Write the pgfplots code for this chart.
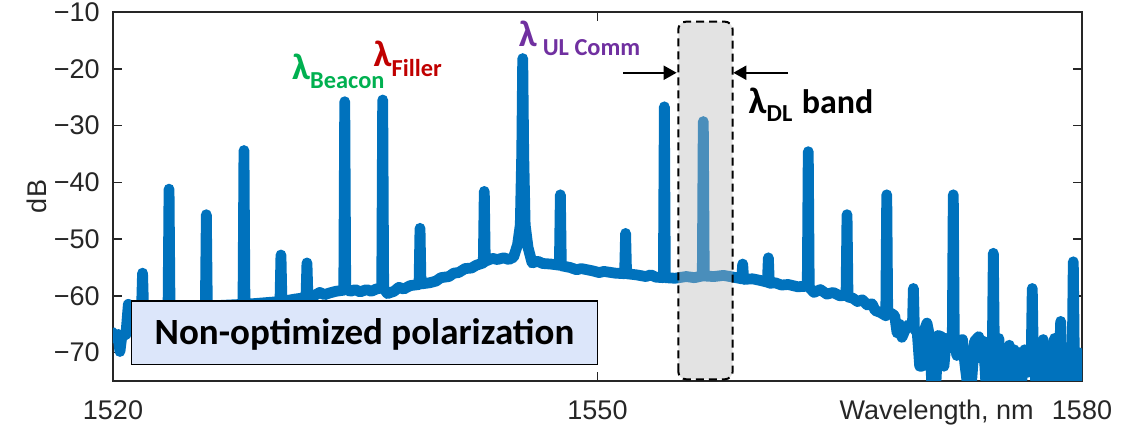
\documentclass[border=0pt]{standalone}
\usepackage{pgfplots}
\pgfplotsset{compat=1.18}
\usepackage{fontspec}
\setmainfont{Liberation Sans}
\newfontfamily\calibri{Carlito}
\usetikzlibrary{arrows.meta}
\definecolor{mblue}{RGB}{0,114,189}
\definecolor{axgray}{RGB}{38,38,38}
\definecolor{bgreen}{RGB}{0,176,80}
\definecolor{fred}{RGB}{192,0,0}
\definecolor{upurple}{RGB}{112,48,160}
\definecolor{boxblue}{RGB}{220,230,250}
\definecolor{bandgray}{RGB}{185,185,185}
\begin{document}
\begin{tikzpicture}
\useasboundingbox (-56.5pt,-23.5pt) rectangle (513.5pt,190.5pt);
\begin{axis}[
  at={(0,0)}, anchor=south west,
  scale only axis, width=484.5pt, height=184.5pt,
  xmin=1520, xmax=1580, ymin=-75, ymax=-10,
  xtick={1520,1550,1580}, xticklabels={1520,1550,1580},
  ytick={-70,-60,-50,-40,-30,-20,-10},
  yticklabels={−70,−60,−50,−40,−30,−20,−10},
  tick pos=both, xticklabel pos=lower, yticklabel pos=left,
  tick align=inside, major tick length=4.7pt,
  axis line style={axgray, line width=0.8pt},
  every tick/.style={axgray, line width=0.8pt},
  tick label style={font=\fontsize{13.5}{16}\selectfont, text=axgray},
  xticklabel style={anchor=base, yshift=-19.2pt},
  yticklabel style={anchor=east, inner sep=0pt, xshift=-6.5pt},
  clip mode=individual,
]
\addplot[mblue, line width=5.4pt, line join=round, line cap=round, mark=none] coordinates {
(1520.00,-66.5) (1520.15,-67.5) (1520.30,-66.8) (1520.43,-69.8) (1520.55,-67.0) (1520.80,-66.8)
(1520.95,-61.5) (1521.20,-62.0) (1521.77,-62.0) (1521.83,-56.0) (1521.89,-62.0)
(1523.41,-62.0) (1523.47,-41.2) (1523.53,-62.0)
(1525.72,-61.8) (1525.78,-45.7) (1525.84,-61.8)
(1528.05,-61.5) (1528.11,-34.4) (1528.17,-61.5)
(1530.34,-61.0) (1530.40,-52.8) (1530.46,-61.0)
(1531.20,-60.6) (1531.95,-60.3) (1532.01,-54.2) (1532.07,-60.3)
(1532.50,-59.9) (1532.80,-59.4) (1533.10,-59.8) (1533.40,-59.5) (1533.80,-59.2)
(1534.29,-59.0) (1534.35,-25.8) (1534.41,-58.8)
(1534.70,-59.2) (1535.00,-58.9) (1535.30,-59.3) (1535.70,-58.9) (1536.00,-59.2) (1536.30,-58.8)
(1536.64,-58.6) (1536.70,-25.5) (1536.76,-58.7)
(1537.00,-59.6) (1537.40,-59.2) (1537.70,-58.5) (1538.00,-58.8) (1538.40,-58.2)
(1538.95,-58.0) (1539.01,-48.1) (1539.07,-57.9)
(1539.60,-57.7) (1540.00,-57.4) (1540.30,-56.8) (1540.80,-56.6) (1541.10,-56.0) (1541.40,-55.9)
(1541.80,-55.2) (1542.20,-55.1) (1542.50,-54.6)
(1542.93,-54.2) (1542.99,-41.6) (1543.05,-53.9)
(1543.50,-53.4) (1543.80,-53.6) (1544.20,-53.3) (1544.50,-53.6) (1544.80,-53.2)
(1545.05,-51.0) (1545.22,-47.5) (1545.31,-35.0) (1545.37,-18.2) (1545.43,-35.0) (1545.52,-47.5)
(1545.70,-51.5) (1545.95,-54.2) (1546.30,-53.9) (1546.60,-54.3) (1547.10,-54.4)
(1547.64,-54.6) (1547.70,-42.2) (1547.76,-54.7)
(1548.30,-55.0) (1548.70,-55.4) (1549.00,-55.2) (1549.70,-55.6) (1550.10,-55.9) (1550.40,-55.7) (1551.10,-56.0)
(1551.68,-56.1) (1551.74,-49.0) (1551.80,-56.1)
(1552.40,-56.3) (1553.00,-56.6) (1553.30,-56.3) (1553.60,-56.7)
(1554.08,-56.8) (1554.14,-26.7) (1554.20,-56.8)
(1554.80,-56.9) (1555.50,-56.6) (1556.00,-56.8)
(1556.49,-56.5) (1556.55,-29.3) (1556.61,-56.5)
(1557.20,-56.6) (1557.80,-56.4) (1558.40,-56.7)
(1558.93,-57.0) (1558.99,-54.4) (1559.05,-57.1)
(1559.60,-57.0) (1560.10,-57.3)
(1560.52,-57.6) (1560.58,-53.3) (1560.64,-57.8)
(1561.00,-57.7) (1561.40,-58.1) (1561.80,-58.0) (1562.40,-58.4)
(1562.99,-58.3) (1563.05,-34.6) (1563.11,-58.5)
(1563.40,-59.4) (1563.80,-58.9) (1564.20,-59.7) (1564.60,-59.4) (1565.00,-60.0)
(1565.39,-59.9) (1565.45,-45.7) (1565.51,-60.2)
(1565.80,-60.4) (1566.10,-61.0) (1566.40,-60.7) (1566.70,-61.6) (1567.00,-61.4) (1567.20,-62.6) (1567.50,-62.9)
(1567.85,-63.5) (1567.91,-42.2) (1567.97,-63.3)
(1568.20,-63.1) (1568.40,-63.5) (1568.55,-66.5) (1568.70,-65.0) (1568.85,-67.3) (1569.00,-66.3) (1569.20,-65.2)
(1569.50,-65.5) (1569.56,-58.7) (1569.62,-65.8)
(1569.80,-66.5) (1569.95,-72.4) (1570.10,-72.4) (1570.25,-66.0) (1570.40,-64.8) (1570.55,-67.0)
(1570.70,-75.5) (1570.95,-75.5) (1571.10,-67.0) (1571.30,-67.2) (1571.45,-72.4) (1571.60,-67.5) (1571.80,-68.5)
(1571.97,-67.5) (1572.03,-42.2) (1572.09,-67.5)
(1572.25,-70.5) (1572.40,-68.5) (1572.60,-67.7) (1572.75,-72.0) (1572.90,-75.5) (1573.15,-75.5) (1573.35,-68.0) (1573.60,-67.2)
(1573.75,-71.0) (1573.90,-68.0) (1574.05,-75.5) (1574.30,-75.5)
(1574.45,-69.0) (1574.51,-52.5) (1574.57,-69.0)
(1574.70,-72.0) (1574.85,-67.5) (1575.00,-75.5) (1575.15,-69.5) (1575.30,-73.0) (1575.50,-68.7) (1575.65,-75.5) (1575.80,-69.5) (1575.95,-74.0)
(1576.10,-70.0) (1576.25,-75.5) (1576.45,-69.5) (1576.60,-73.5)
(1576.86,-70.0) (1576.92,-58.7) (1576.98,-70.0)
(1577.15,-75.5) (1577.30,-70.0) (1577.45,-74.0)
(1577.54,-70.0) (1577.60,-67.7) (1577.66,-70.0)
(1577.80,-75.5) (1577.95,-70.5) (1578.10,-75.5) (1578.30,-67.5) (1578.45,-75.5)
(1578.62,-70.0) (1578.68,-64.5) (1578.74,-70.0)
(1578.90,-75.5) (1579.05,-70.5) (1579.20,-75.5)
(1579.40,-70.0) (1579.46,-54.0) (1579.52,-70.0)
(1579.65,-75.5) (1579.80,-70.0) (1579.90,-75.5) (1580.00,-71.0)
};
% DL band
\draw[black, line width=1pt, dash pattern=on 4pt off 2.5pt, rounded corners=4pt,
      fill=bandgray, fill opacity=0.4] (axis cs:1555.0,-74.7) rectangle (axis cs:1558.37,-11.7);
\draw[-{Triangle[length=6.5pt,width=7pt]}, line width=1pt] (axis cs:1551.58,-20.7) -- (axis cs:1554.9,-20.7);
\draw[-{Triangle[length=6.5pt,width=7pt]}, line width=1pt] (axis cs:1561.8,-20.7) -- (axis cs:1558.41,-20.7);
% labels
\node[anchor=base west, inner sep=0pt, text=bgreen, font=\calibri\bfseries] at (axis cs:1531.07,-21.97)
  {\fontsize{18.5}{20}\selectfont λ\raisebox{-4.5pt}{\fontsize{12.2}{14}\selectfont Beacon}};
\node[anchor=base west, inner sep=0pt, text=fred, font=\calibri\bfseries] at (axis cs:1536.12,-19.63)
  {\fontsize{18.5}{20}\selectfont λ\raisebox{-5pt}{\fontsize{12.2}{14}\selectfont Filler}};
\node[anchor=base west, inner sep=0pt, text=upurple, font=\calibri\bfseries] at (axis cs:1545.10,-16.1)
  {\fontsize{18.5}{20}\selectfont λ\hspace{3pt}\raisebox{-4.2pt}{\fontsize{12.2}{14}\selectfont UL Comm}};
\node[anchor=base west, inner sep=0pt, text=black, font=\calibri\bfseries] at (axis cs:1559.34,-27.83)
  {\fontsize{18.5}{20}\selectfont λ\raisebox{-4.2pt}{\fontsize{12.2}{14}\selectfont DL}\hspace{0.5pt} {\fontsize{17}{18}\selectfont band}};
% box
\draw[black, line width=0.8pt, fill=boxblue] (axis cs:1521.15,-72.1) rectangle (axis cs:1550.0,-60.9);
\node[anchor=base, inner sep=0pt, font=\calibri\bfseries\fontsize{18.5}{20}\selectfont] at (axis cs:1535.57,-68.63)
  {Non-optimized polarization};
% axis labels
\node[rotate=90, text=axgray, font=\fontsize{13.5}{16}\selectfont] at (axis cs:1515.29,-42.5) {dB};
\node[anchor=base, text=axgray, font=\fontsize{13.5}{16}\selectfont] at (axis cs:1571.0,-81.76) {Wavelength, nm};
\end{axis}
\end{tikzpicture}
\end{document}
